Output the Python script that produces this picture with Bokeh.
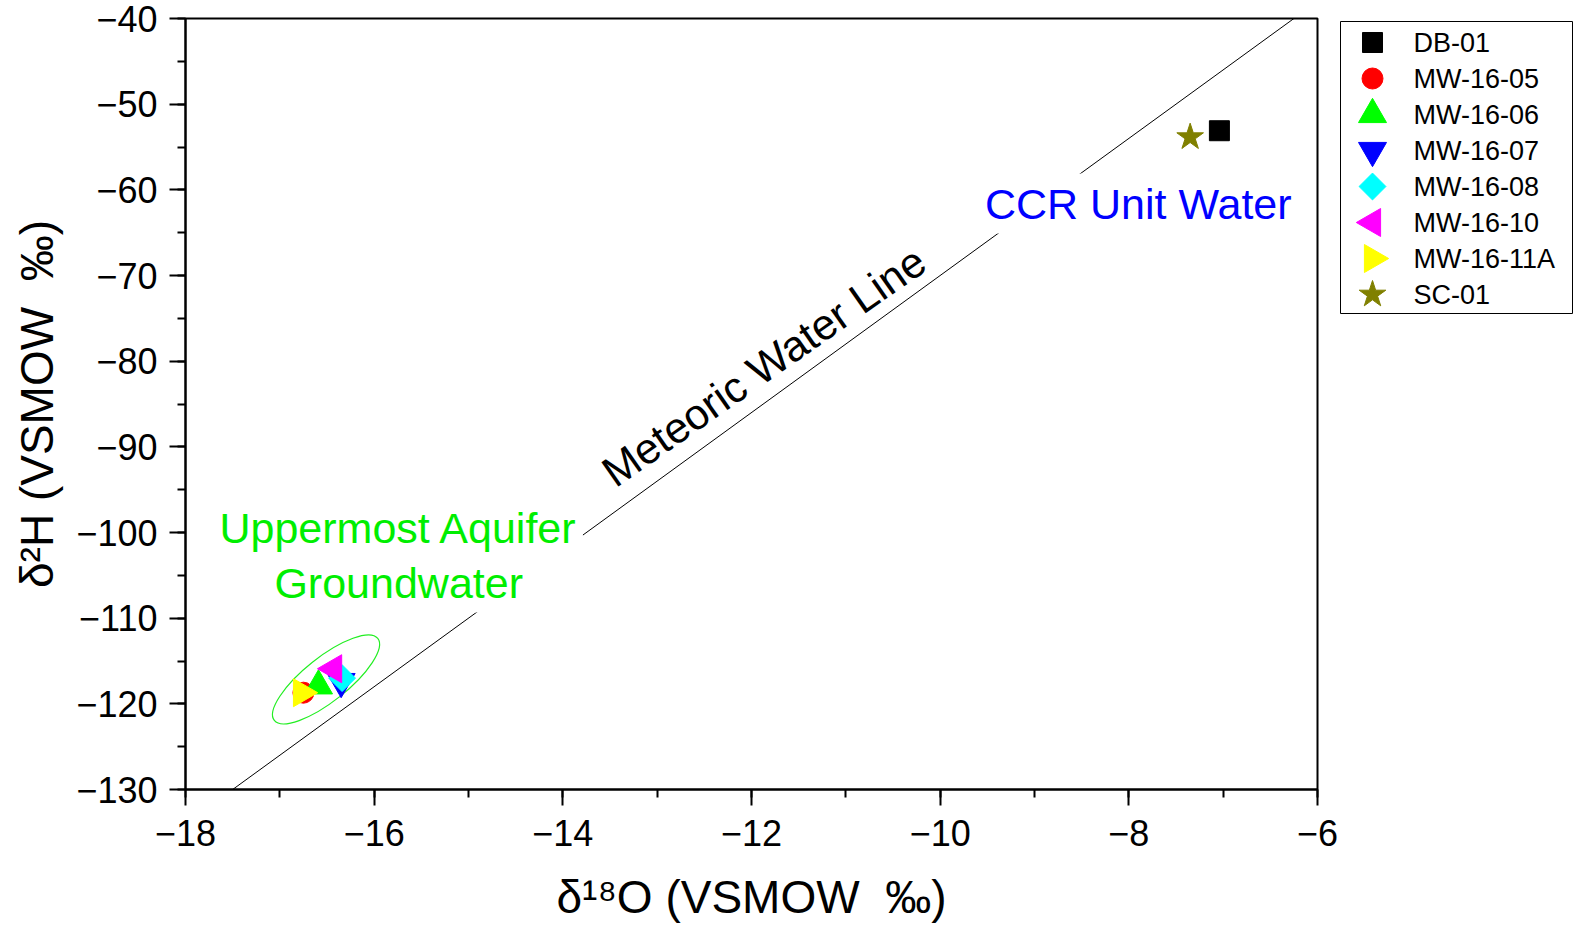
from bokeh.plotting import figure
from bokeh.models import Label, SingleIntervalTicker, Range1d
from bokeh.layouts import row
from bokeh.core.properties import value
from bokeh.embed import file_html
from bokeh.resources import INLINE

# ---- data ----
samples = ["DB-01", "MW-16-05", "MW-16-06", "MW-16-07", "MW-16-08", "MW-16-10", "MW-16-11A", "SC-01"]
d18O = [-7.04, -16.75, -16.59, -16.35, -16.34, -16.43, -16.77, -7.35]
d2H = [-53.1, -118.7, -117.9, -117.4, -117.0, -115.9, -118.7, -53.85]
markers = ["square", "circle", "triangle", "inverted_triangle", "square", "triangle", "triangle", "star"]
angles = [0, 0, 0, 0, 45, 90, -90, 0]
sizes = [20, 21, 28, 28, 19, 28, 28, 28]
colors = ["#000000", "#ff0000", "#00ff00", "#0000ff", "#00ffff", "#ff00ff", "#ffff00", "#808000"]

# Global meteoric water line: d2H = 8 * d18O + 10
mwl_slope = 8.0
mwl_intercept = 10.0
mwl_x = [-18.0, -6.0]
mwl_y = [mwl_slope * v + mwl_intercept for v in mwl_x]

# cluster ellipse (centre in data units)
ell_x = [-16.51]
ell_y = [-117.15]

FONT = "Liberation Sans"
TOP, BOTTOM = 18, 148
H = 937
MAIN_W = 1339

p = figure(width=MAIN_W, height=H, x_range=(-18, -6), y_range=(-130, -40),
           output_backend="svg", toolbar_location=None,
           min_border_left=185, min_border_right=22, min_border_top=TOP, min_border_bottom=BOTTOM)

p.xgrid.visible = False
p.ygrid.visible = False
p.outline_line_color = "black"
p.outline_line_width = 2
p.background_fill_color = "white"
p.border_fill_color = "white"

p.xaxis.ticker = SingleIntervalTicker(interval=2, num_minor_ticks=2)
p.yaxis.ticker = SingleIntervalTicker(interval=10, num_minor_ticks=2)

for ax in (p.xaxis[0], p.yaxis[0]):
    ax.axis_line_width = 2
    ax.major_tick_line_width = 2
    ax.minor_tick_line_width = 2
    ax.major_tick_out = 16
    ax.major_tick_in = 0
    ax.minor_tick_out = 8
    ax.minor_tick_in = 0
    ax.major_label_text_font = FONT
    ax.major_label_text_font_size = "36px"
    ax.major_label_text_color = "black"
    ax.axis_label_text_font = FONT
    ax.axis_label_text_font_size = "46px"
    ax.axis_label_text_font_style = "normal"
    ax.axis_label_text_color = "black"

p.xaxis.major_label_standoff = 14
p.yaxis.major_label_standoff = 12
p.xaxis.axis_label_standoff = 22
p.yaxis.axis_label_standoff = 10
p.xaxis.axis_label = "δ¹⁸O (VSMOW\u00a0\u00a0‰)"
p.yaxis.axis_label = "δ²H (VSMOW\u00a0\u00a0‰)"

# meteoric water line
p.line(mwl_x, mwl_y, line_color="black", line_width=1)

# ellipse around the groundwater cluster
p.ellipse(x=ell_x, y=ell_y, width=132, height=44, width_units="screen", height_units="screen",
          angle=38.4, angle_units="deg", fill_color=None, line_color="#22ee22", line_width=1.2)

for i, name in enumerate(samples):
    p.scatter([d18O[i]], [d2H[i]], marker=markers[i], size=sizes[i], angle=angles[i],
              angle_units="deg", fill_color=colors[i], line_color=colors[i], line_width=1)

# annotations
p.add_layout(Label(x=-15.74, y=-102.7, text="Uppermost Aquifer\nGroundwater",
                   text_font=FONT, text_font_size="43px", text_color="#00ee00",
                   text_align="center", text_baseline="middle", text_line_height=1.16,
                   background_fill_color="white", padding=5))
p.add_layout(Label(x=-7.9, y=-61.6, text="CCR Unit Water",
                   text_font=FONT, text_font_size="43px", text_color="#0000ff",
                   text_align="center", text_baseline="alphabetic",
                   background_fill_color="white", padding=6))
p.add_layout(Label(x=-11.87, y=-80.6, text="Meteoric Water Line",
                   text_font=FONT, text_font_size="43px", text_color="black",
                   text_align="center", text_baseline="alphabetic",
                   angle=35, angle_units="deg"))

# ---- legend panel (own small figure so marker rotations match) ----
LW = 1575 - MAIN_W
lg = figure(width=LW, height=H, x_range=Range1d(0, LW), y_range=Range1d(H - BOTTOM, TOP),
            output_backend="svg", toolbar_location=None, x_axis_type=None, y_axis_type=None,
            min_border_left=0, min_border_right=0, min_border_top=TOP, min_border_bottom=BOTTOM)
lg.xgrid.visible = False
lg.ygrid.visible = False
lg.outline_line_color = None
lg.background_fill_color = "white"
lg.border_fill_color = "white"

row_pitch = 36
row_first = 42
rows_y = [row_first + row_pitch * i for i in range(len(samples))]
lg.quad(left=[1], right=[LW - 3], top=[21], bottom=[313], fill_color=None,
        line_color="black", line_width=1)
for i, name in enumerate(samples):
    lg.scatter([33], [rows_y[i]], marker=markers[i], size=sizes[i], angle=angles[i],
               angle_units="deg", fill_color=colors[i], line_color=colors[i], line_width=1)
lg.text(x=[74] * len(samples), y=rows_y, text=samples, text_font=value(FONT),
        text_font_size="27px", text_baseline="middle", text_align="left", text_color="black")

layout = row(p, lg, spacing=0)
open("out.html", "w").write(file_html(layout, INLINE))
